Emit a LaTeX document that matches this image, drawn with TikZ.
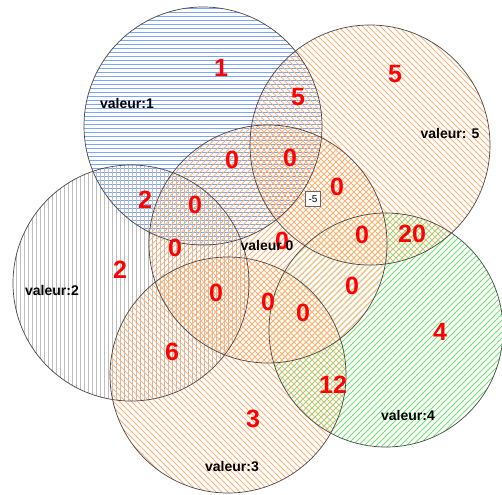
\documentclass[tikz,border=0pt]{standalone}
\usepackage{fontspec}
\setmainfont{Liberation Sans}
\definecolor{horange}{RGB}{255,178,115}
\definecolor{hblue}{RGB}{125,165,245}
\definecolor{hgray}{RGB}{190,190,190}
\definecolor{hgreen}{RGB}{110,228,110}
\definecolor{edgegray}{RGB}{70,70,70}
\definecolor{numred}{RGB}{255,0,0}
\def\myhatchNE#1#2#3#4{%
 \begin{scope}\clip (#1,#2) circle (#3);
 \pgfmathtruncatemacro\cmin{(#1+#2-1.5*#3)/6}%
 \pgfmathtruncatemacro\cmax{(#1+#2+1.5*#3)/6}%
 \foreach \k in {\cmin,...,\cmax}{\pgfmathsetmacro\cc{6*\k}%
   \draw[#4] (\cc-#2+#3+2, #2-#3-2) -- (\cc-#2-#3-2, #2+#3+2);}
 \end{scope}}
\def\myhatchNW#1#2#3#4{%
 \begin{scope}\clip (#1,#2) circle (#3);
 \pgfmathtruncatemacro\cmin{(#1-#2-1.5*#3)/6}%
 \pgfmathtruncatemacro\cmax{(#1-#2+1.5*#3)/6}%
 \foreach \k in {\cmin,...,\cmax}{\pgfmathsetmacro\cc{6*\k}%
   \draw[#4] (\cc+#2-#3-2, #2-#3-2) -- (\cc+#2+#3+2, #2+#3+2);}
 \end{scope}}
\def\myhatchH#1#2#3#4{%
 \begin{scope}\clip (#1,#2) circle (#3);
 \pgfmathtruncatemacro\cmin{(#2-#3)/4}%
 \pgfmathtruncatemacro\cmax{(#2+#3)/4+1}%
 \foreach \k in {\cmin,...,\cmax}{\pgfmathsetmacro\cc{4*\k+0.5}%
   \draw[#4] (#1-#3-2, \cc) -- (#1+#3+2, \cc);}
 \end{scope}}
\def\myhatchV#1#2#3#4{%
 \begin{scope}\clip (#1,#2) circle (#3);
 \pgfmathtruncatemacro\cmin{(#1-#3)/4}%
 \pgfmathtruncatemacro\cmax{(#1+#3)/4+1}%
 \foreach \k in {\cmin,...,\cmax}{\pgfmathsetmacro\cc{4*\k+0.5}%
   \draw[#4] (\cc, #2-#3-2) -- (\cc, #2+#3+2);}
 \end{scope}}
\tikzset{
  hor/.style={horange, line width=0.9pt},
  hbl/.style={hblue, line width=1pt},
  hgr/.style={hgray, line width=1pt},
  hgn/.style={hgreen, line width=0.9pt},
  ring/.style={edgegray, line width=0.7pt},
  num/.style={text=numred, font=\fontsize{25}{25}\selectfont\bfseries, inner sep=0pt},
  lab/.style={text=black, font=\fontsize{14}{15}\selectfont\bfseries, inner sep=0pt},
  tag/.style={draw=gray!80!black, fill=white, font=\fontsize{10}{10}\selectfont, inner sep=1.5pt, minimum size=15pt}
}
\begin{document}
\begin{tikzpicture}[x=1pt,y=-1pt]
\useasboundingbox (0,0) rectangle (502,494);
% hatches
\myhatchNE{386}{330}{117}{hgn}
\myhatchH{203}{126}{119}{hbl}
\myhatchV{131}{283}{118}{hgr}
\myhatchNW{370}{145}{120}{hor}
\myhatchNW{228}{375}{118}{hor}
\myhatchNE{268}{244}{119}{hor}
% outlines
\draw[ring] (203,126) circle (119);
\draw[ring] (370,145) circle (120);
\draw[ring] (268,244) circle (119);
\draw[ring] (131,283) circle (118);
\draw[ring] (228,375) circle (118);
\draw[ring] (386,330) circle (117);
% numbers
\node[num] (n1) at (221,68) {1};
\node[num] (n5a) at (298,97) {5};
\node[num] (n5) at (395,74) {5};
\node[num] (n0a) at (232,160) {0};
\node[num] (n0b) at (290,158) {0};
\node[num] (n0c) at (337,187) {0};
\node[num] (n2a) at (145,200) {2};
\node[num] (n0d) at (195,205) {0};
\node[num] (n0e) at (175,248) {0};
\node[num] (n0f) at (282,241) {0};
\node[num] (n0g) at (362,235) {0};
\node[num] (n20) at (412,234) {20};
\node[num] (n2) at (120,270) {2};
\node[num] (n0h) at (216,293) {0};
\node[num] (n0i) at (268,302) {0};
\node[num] (n0j) at (352,286) {0};
\node[num] (n0k) at (303,313) {0};
\node[num] (n4) at (440,332) {4};
\node[num] (n6) at (172,352) {6};
\node[num] (n12) at (333,385) {12};
\node[num] (n3) at (253,419) {3};
% labels
\node[lab] (l1) at (127,103) {valeur:1};
\node[lab] (l5) at (450,133) {valeur: 5};
\node[lab] (l0) at (267,245) {valeur 0};
\node[lab] (l2) at (52,290) {valeur:2};
\node[lab] (l3) at (232,467) {valeur:3};
\node[lab] (l4) at (408,415) {valeur:4};
\node[tag] (t5) at (313,199) {-5};
\end{tikzpicture}
\end{document}
